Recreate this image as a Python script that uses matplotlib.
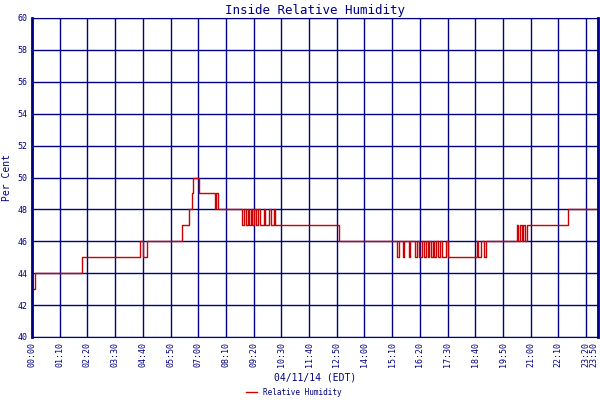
import matplotlib
matplotlib.use("Agg")
import matplotlib.pyplot as plt

# minutes after midnight where the value changes, and the new value
change_min = [0, 8, 127, 273, 280, 290, 379, 397, 404, 407, 421, 462, 466, 470,
              531, 535, 541, 546, 549, 553, 556, 560, 566, 572, 576, 585, 588,
              600, 605, 612, 615, 631, 776,
              922, 926, 938, 941, 952, 955, 968, 972, 978, 985, 990, 996,
              1000, 1004, 1008, 1012, 1016, 1020, 1026, 1032, 1036, 1046, 1050,
              1074, 1124, 1128, 1134, 1143, 1148, 1157,
              1225, 1229, 1233, 1237, 1241, 1245, 1250, 1354, 1430]
values = [43, 44, 45, 46, 45, 46, 47, 48, 49, 50, 49, 48, 49, 48,
          47, 48, 47, 48, 47, 48, 47, 48, 47, 48, 47, 48, 47,
          48, 47, 48, 47, 47, 46,
          45, 46, 45, 46, 45, 46, 45, 46, 45, 46, 45, 46,
          45, 46, 45, 46, 45, 46, 45, 46, 45, 46, 45,
          45, 46, 45, 46, 45, 46, 46,
          47, 46, 47, 46, 47, 46, 47, 48, 48]
tick_min = list(range(0, 1401, 70)) + [1430]
tick_labels = ["%02d:%02d" % (m // 60, m % 60) for m in tick_min]

navy = "#000080"
plt.rcParams["font.family"] = ["DejaVu Sans Mono"]
fig = plt.figure(figsize=(6, 4), dpi=100)
ax = fig.add_axes([32 / 600, 63 / 400, 566 / 600, 319 / 400])
ax.plot(change_min, values, drawstyle="steps-post", color="#cc0000", lw=1.0,
        label="Relative Humidity")
ax.set_xlim(0, 1430)
ax.set_ylim(40, 60)
ax.set_yticks(range(40, 61, 2))
ax.set_xticks(tick_min)
ax.set_xticklabels(tick_labels, rotation=90, fontsize=6, color=navy)
ax.get_xticklabels()[-1].set_horizontalalignment("right")
ax.tick_params(axis="y", labelsize=6, colors=navy, length=0)
ax.tick_params(axis="x", length=0, colors=navy)
ax.grid(True, color=navy, lw=1)
for s in ax.spines.values():
    s.set_color(navy)
ax.spines["left"].set_linewidth(2)
ax.spines["right"].set_linewidth(2)
ax.set_title("Inside Relative Humidity", color=navy, fontsize=9, pad=3)
ax.set_ylabel("Per Cent", color=navy, fontsize=7, labelpad=4)
ax.set_xlabel("04/11/14 (EDT)", color=navy, fontsize=7, labelpad=4)
fig.legend(loc="lower center", bbox_to_anchor=(0.49, -0.01), frameon=False,
           fontsize=5.5, labelcolor=navy, handlelength=1.5)
fig.savefig("out.png", dpi=100)
